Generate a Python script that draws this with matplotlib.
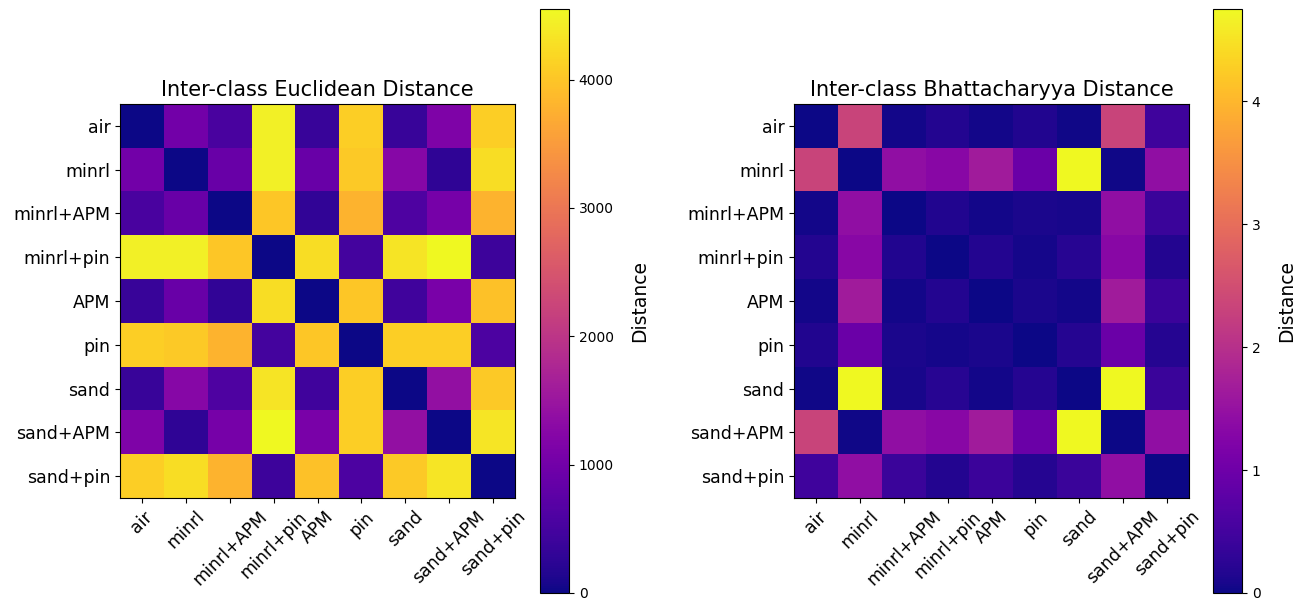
import numpy as np
import matplotlib
matplotlib.use("Agg")
import matplotlib.pyplot as plt

classes = ["air", "minrl", "minrl+APM", "minrl+pin", "APM", "pin",
           "sand", "sand+APM", "sand+pin"]

# Euclidean distance between class means
euclid = [
    [0, 1000, 550, 4450, 370, 4100, 370, 1150, 4100],
    [1000, 0, 900, 4450, 900, 4050, 1250, 280, 4250],
    [550, 900, 0, 4000, 300, 3800, 600, 1050, 3800],
    [4450, 4450, 4000, 0, 4250, 480, 4330, 4550, 420],
    [370, 900, 300, 4250, 0, 4000, 460, 1100, 3950],
    [4100, 4050, 3800, 480, 4000, 0, 4100, 4100, 580],
    [370, 1250, 600, 4330, 460, 4100, 0, 1400, 4050],
    [1150, 280, 1050, 4550, 1100, 4100, 1400, 0, 4350],
    [4100, 4250, 3800, 420, 3950, 580, 4050, 4350, 0],
]

# Bhattacharyya distance
bhatta = [
    [0, 2.33, 0.05, 0.18, 0.05, 0.15, 0.03, 2.33, 0.45],
    [2.33, 0, 1.43, 1.33, 1.66, 0.95, 4.75, 0.02, 1.43],
    [0.05, 1.43, 0, 0.15, 0.05, 0.10, 0.08, 1.43, 0.40],
    [0.18, 1.33, 0.15, 0, 0.18, 0.06, 0.22, 1.33, 0.17],
    [0.05, 1.66, 0.05, 0.18, 0, 0.10, 0.05, 1.66, 0.42],
    [0.15, 0.95, 0.10, 0.06, 0.10, 0, 0.20, 0.95, 0.20],
    [0.03, 4.75, 0.08, 0.22, 0.05, 0.20, 0, 4.75, 0.40],
    [2.33, 0.02, 1.43, 1.33, 1.66, 0.95, 4.75, 0, 1.43],
    [0.45, 1.43, 0.40, 0.17, 0.42, 0.20, 0.40, 1.43, 0],
]

W, H = 1309, 601
fig = plt.figure(figsize=(W / 100, H / 100), dpi=100)


def fx(px):
    return px / W


def fy(top, bottom):
    return (H - bottom) / H, (bottom - top) / H


panels = [
    (euclid, "Inter-class Euclidean Distance", 120, 540),
    (bhatta, "Inter-class Bhattacharyya Distance", 794, 1213),
]

for mat, title, ax_left, cb_left in panels:
    b, h = fy(104, 498)
    ax = fig.add_axes([fx(ax_left), b, fx(395), h])
    im = ax.imshow(np.array(mat), cmap="plasma", aspect="auto")
    ax.set_xticks(range(len(classes)))
    ax.set_yticks(range(len(classes)))
    ax.set_xticklabels(classes, rotation=45, fontsize=12.5)
    ax.set_yticklabels(classes, fontsize=12.5)
    ax.set_title(title, fontsize=15)

    cb_b, cb_h = fy(9, 593)
    cax = fig.add_axes([fx(cb_left), cb_b, fx(29), cb_h])
    cbar = fig.colorbar(im, cax=cax)
    cbar.ax.tick_params(labelsize=10)
    cbar.set_label("Distance", fontsize=13.5, labelpad=12)

fig.savefig("out.png", dpi=100)
